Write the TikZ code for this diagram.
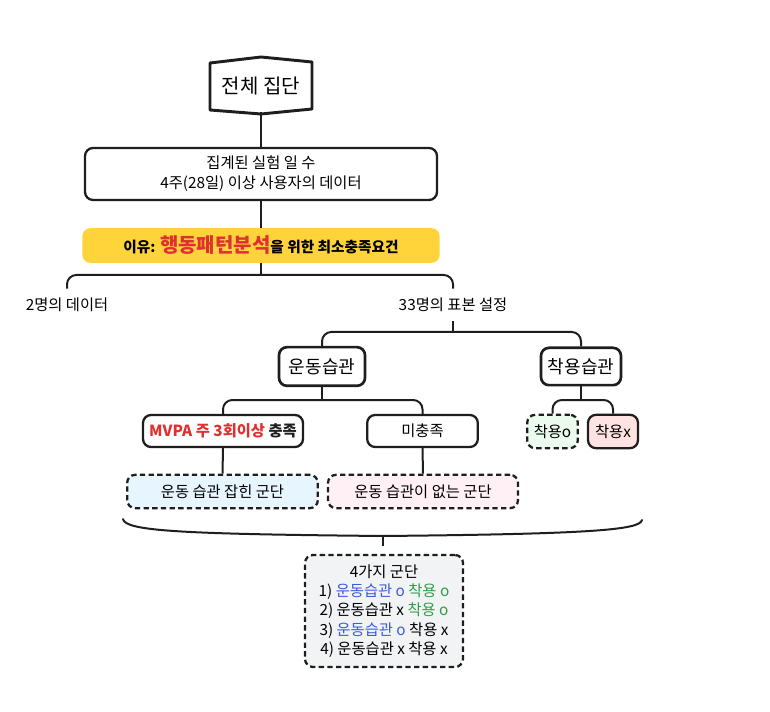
\documentclass[tikz,border=0pt]{standalone}
\usepackage{fontspec}
\setmainfont{Noto Sans CJK KR}
\usepackage{xcolor}
\usepackage{tikz}
\usetikzlibrary{positioning,calc}
\definecolor{HiYellow}{HTML}{FFD43B}
\definecolor{HiRed}{HTML}{E03131}
\definecolor{TxtBlue}{HTML}{3B5BDB}
\definecolor{TxtGreen}{HTML}{2F9E44}
\definecolor{FillBlue}{HTML}{E7F5FF}
\definecolor{FillPink}{HTML}{FFF0F6}
\definecolor{FillGreen}{HTML}{EBFBEE}
\definecolor{FillRose}{HTML}{FFE3E3}
\definecolor{FillGray}{HTML}{F1F3F5}
\definecolor{Ink}{HTML}{1E1E1E}
\tikzset{
  conn/.style={draw=Ink,line width=1.5pt},
  brch/.style={conn,rounded corners=7pt},
  rbox/.style={draw=Ink,line width=1.7pt,rounded corners=6pt,fill=white,
    align=center,inner sep=0pt,font=\fontsize{11.5}{15}\selectfont},
  dbox/.style={rbox,dashed,dash pattern=on 4pt off 2.5pt},
  plain/.style={inner sep=0pt,minimum height=24pt,font=\fontsize{11.5}{15}\selectfont},
  bigbox/.style={rbox,line width=2pt,font=\fontsize{13.5}{16}\selectfont}}

\begin{document}
\begin{tikzpicture}[x=0.75pt,y=-0.75pt]
  \useasboundingbox (0,0) rectangle (770,712);
  % nodes
  \node[inner sep=0pt,minimum width=76.5pt,minimum height=39pt,
    font=\fontsize{15}{18}\selectfont] (all) at (261,86){전체 집단};
  \draw[draw=Ink,line width=2.2pt,line join=round]
    (210,63)--(261,57)--(312,62)--(312,109)--(261,114)--(210,110)--cycle;
  \node[rbox,minimum width=264pt,minimum height=39pt] (cnt) at (261,174)
    {집계된 실험 일 수\\4주(28일) 이상 사용자의 데이터};
  \node[fill=HiYellow,rounded corners=6pt,inner sep=0pt,
    minimum width=268pt,minimum height=26pt] (reason) at (261,245.5)
    {\fontsize{11}{13}\selectfont\bfseries 이유:
     {\fontsize{15}{16}\selectfont\color{HiRed}행동패턴분석}을 위한 최소충족요건};
  \node[plain] (two) at (67,305){2명의 데이터};
  \node[plain] (sample) at (453,305){33명의 표본 설정};
  \node[bigbox,minimum width=64.5pt,minimum height=29pt] (ex) at (322,366.5){운동습관};
  \node[bigbox,minimum width=60pt,minimum height=28pt] (wear) at (581,366.5){착용습관};
  \node[rbox,minimum width=120pt,minimum height=24pt] (mvpa) at (223,431)
    {\bfseries\color{HiRed}MVPA 주 3회이상 \color{Ink}충족};
  \node[rbox,minimum width=83pt,minimum height=24pt] (unmet) at (422.5,431){미충족};
  \node[dbox,fill=FillBlue,minimum width=143pt,minimum height=25pt] (habit)
    at (222.5,491.5){운동 습관 잡힌 군단};
  \node[dbox,fill=FillPink,minimum width=142.5pt,minimum height=25pt] (nohabit)
    at (423,491.5){운동 습관이 없는 군단};
  \node[dbox,fill=FillGreen,minimum width=38pt,minimum height=25pt] (wyes)
    at (552.5,431.5){착용o};
  \node[rbox,fill=FillRose,minimum width=37.5pt,minimum height=25pt] (wno)
    at (613,431.5){착용x};
  \node[dbox,fill=FillGray,minimum width=118.5pt,minimum height=84pt,
    font=\fontsize{11.5}{14.5}\selectfont] (group)
    at (384,611){4가지 군단\\
    1) {\color{TxtBlue}운동습관 o} {\color{TxtGreen}착용 o}\\
    2) 운동습관 x {\color{TxtGreen}착용 o}\\
    3) {\color{TxtBlue}운동습관 o} 착용 x\\
    4) 운동습관 x 착용 x};
  % junctions
  \coordinate (split1) at (261,275);
  \coordinate (split2) at (453,332);
  \coordinate (split3) at (322,400);
  \coordinate (split4) at (581,400);
  \coordinate (bmid) at (383,536);
  \coordinate (btip) at (383,546);
  % connectors
  \draw[conn] (all.south) -- (cnt.north);
  \draw[conn] (cnt.south) -- (reason.north);
  \draw[conn] (reason.south) -- (split1);
  \draw[brch] (two.north) |- (split1) -| (sample.north);
  \draw[conn] (sample.south) -- (split2);
  \draw[brch] (ex.north) |- (split2) -| (wear.north);
  \draw[conn] (ex.south) -- (split3);
  \draw[brch] (mvpa.north) |- (split3) -| (unmet.north);
  \draw[conn] (wear.south) -- (split4);
  \draw[brch] (wyes.north) |- (split4) -| (wno.north);
  \draw[conn] (mvpa.south) -- (habit.north);
  \draw[conn] (unmet.south) -- (nohabit.north);
  % brace
  \draw[conn,line cap=round] (123,519) .. controls (125,531) and (180,534) .. (bmid)
    .. controls (590,534) and (640,530) .. (642,520);
  \draw[conn] (bmid) -- (btip);
\end{tikzpicture}
\end{document}
